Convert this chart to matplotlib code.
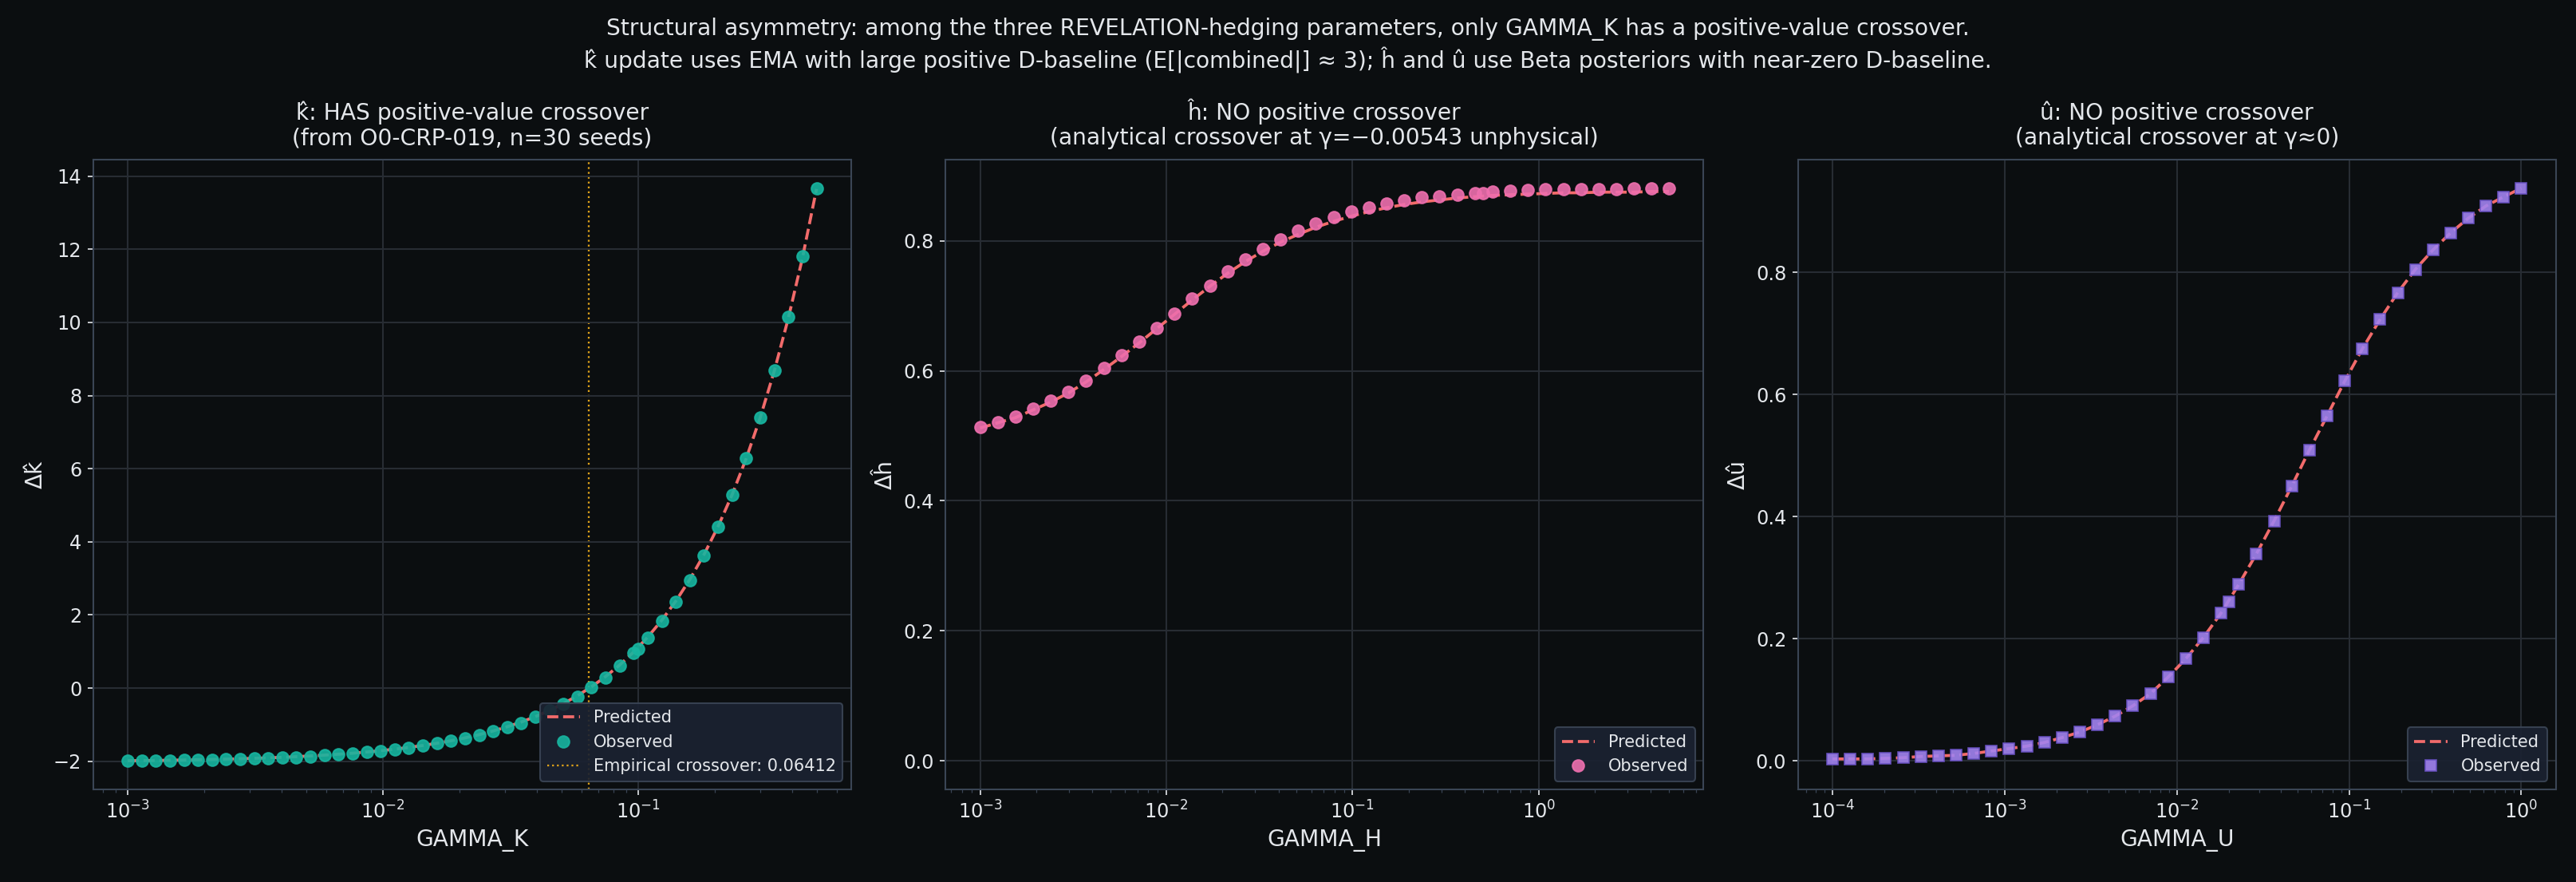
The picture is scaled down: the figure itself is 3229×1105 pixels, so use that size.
import numpy as np
import matplotlib
matplotlib.use("Agg")
import matplotlib.pyplot as plt

# colours (dark theme)
BG = "#0b0e10"
SPINE = "#3a4555"
GRID = "#272c33"
TXT = "#e4e7eb"
PRED = "#f26b6b"
C_K = "#17b5a0"
C_H = "#ee6fae"
C_U = "#a283f0"
CROSS = "#e0a31a"

# ---- panel 1: k-hat (GAMMA_K sweep, 50 log-spaced points + default 0.1)
gamma_k = [0.001, 0.001135, 0.001289, 0.001463, 0.001661, 0.001885, 0.00214, 0.00243,
           0.002758, 0.003131, 0.003554, 0.004035, 0.00458, 0.005199, 0.005902, 0.0067,
           0.007606, 0.008635, 0.009802, 0.011127, 0.012632, 0.01434, 0.016278, 0.018479,
           0.020978, 0.023814, 0.027034, 0.030689, 0.034838, 0.039548, 0.044895, 0.050965,
           0.057856, 0.065678, 0.074558, 0.084639, 0.096082, 0.10907, 0.12382, 0.14056,
           0.15957, 0.18114, 0.20563, 0.23344, 0.265, 0.30083, 0.3415, 0.38767, 0.44009, 0.5]
pred_k = [-1.989, -1.984, -1.98, -1.974, -1.968, -1.961, -1.953, -1.944, -1.934, -1.922,
          -1.909, -1.894, -1.877, -1.857, -1.835, -1.81, -1.782, -1.75, -1.713, -1.672,
          -1.625, -1.571, -1.51, -1.442, -1.363, -1.275, -1.174, -1.059, -0.93, -0.782,
          -0.615, -0.425, -0.209, 0.036, 0.314, 0.629, 0.987, 1.394, 1.856, 2.38,
          2.975, 3.65, 4.416, 5.287, 6.275, 7.396, 8.669, 10.114, 11.755, 13.65]
obs_gamma_k = gamma_k + [0.1]
obs_k = [-1.985, -1.985, -1.985, -1.985, -1.96, -1.96, -1.96, -1.95, -1.95, -1.93,
         -1.93, -1.9, -1.89, -1.87, -1.84, -1.81, -1.79, -1.75, -1.73, -1.68,
         -1.63, -1.57, -1.51, -1.43, -1.37, -1.29, -1.18, -1.07, -0.95, -0.79,
         -0.61, -0.44, -0.23, 0.02, 0.28, 0.61, 0.96, 1.37, 1.83, 2.36,
         2.94, 3.63, 4.42, 5.29, 6.28, 7.41, 8.69, 10.15, 11.81, 13.67, 1.08]
crossover_k = 0.06412

# ---- panel 2: h-hat (GAMMA_H sweep, 40 points + default 0.5)
gamma_h = [0.001, 0.001244, 0.001548, 0.001926, 0.002397, 0.002982, 0.00371, 0.004616,
           0.005744, 0.007146, 0.008891, 0.011063, 0.013764, 0.017126, 0.021308, 0.026512,
           0.032986, 0.041042, 0.051065, 0.063535, 0.079051, 0.098356, 0.12238, 0.15226,
           0.18945, 0.23571, 0.29328, 0.3649, 0.45401, 0.56488, 0.70283, 0.87447,
           1.088, 1.3537, 1.6843, 2.0957, 2.6074, 3.2442, 4.0365, 5.0]
pred_h = [0.512, 0.52, 0.528, 0.54, 0.552, 0.566, 0.583, 0.602, 0.622, 0.643,
          0.665, 0.687, 0.709, 0.73, 0.75, 0.768, 0.784, 0.798, 0.81, 0.821,
          0.83, 0.838, 0.845, 0.851, 0.856, 0.86, 0.863, 0.866, 0.868, 0.87,
          0.871, 0.872, 0.873, 0.874, 0.874, 0.875, 0.875, 0.875, 0.876, 0.876]
obs_gamma_h = gamma_h + [0.5]
obs_h = [0.513, 0.521, 0.529, 0.542, 0.554, 0.568, 0.585, 0.604, 0.624, 0.645,
         0.666, 0.688, 0.711, 0.731, 0.753, 0.771, 0.787, 0.802, 0.816, 0.827,
         0.837, 0.845, 0.851, 0.857, 0.862, 0.867, 0.869, 0.871, 0.874, 0.876,
         0.877, 0.878, 0.879, 0.879, 0.88, 0.88, 0.88, 0.881, 0.881, 0.881, 0.874]

# ---- panel 3: u-hat (GAMMA_U sweep, 40 points + default 0.02)
gamma_u = [0.0001, 0.00012664, 0.00016037, 0.00020309, 0.00025719, 0.0003257, 0.00041246,
           0.00052233, 0.00066147, 0.00083768, 0.0010608, 0.0013434, 0.0017013, 0.0021544,
           0.0027283, 0.0034551, 0.0043755, 0.005541, 0.007017, 0.0088862, 0.011253,
           0.014251, 0.018047, 0.022855, 0.028943, 0.036653, 0.046416, 0.05878, 0.074438,
           0.094267, 0.11938, 0.15118, 0.19145, 0.24245, 0.30703, 0.38881, 0.49239,
           0.62355, 0.78965, 1.0]
pred_u = [0.003, 0.003, 0.003, 0.004, 0.005, 0.007, 0.008, 0.009, 0.012, 0.016,
          0.02, 0.024, 0.03, 0.038, 0.047, 0.059, 0.073, 0.09, 0.11, 0.137,
          0.167, 0.202, 0.242, 0.289, 0.339, 0.393, 0.45, 0.509, 0.565, 0.622,
          0.675, 0.723, 0.767, 0.805, 0.837, 0.865, 0.889, 0.909, 0.924, 0.938]
obs_gamma_u = gamma_u + [0.02]
obs_u = pred_u + [0.261]

panels = [
    dict(gx=gamma_k, py=pred_k, ox=obs_gamma_k, oy=obs_k, color=C_K, marker="o",
         xlabel="GAMMA_K", ylabel="Δk̂",
         title="k̂: HAS positive-value crossover\n(from O0-CRP-019, n=30 seeds)"),
    dict(gx=gamma_h, py=pred_h, ox=obs_gamma_h, oy=obs_h, color=C_H, marker="o",
         xlabel="GAMMA_H", ylabel="Δĥ",
         title="ĥ: NO positive crossover\n(analytical crossover at γ=−0.00543 unphysical)"),
    dict(gx=gamma_u, py=pred_u, ox=obs_gamma_u, oy=obs_u, color=C_U, marker="s",
         xlabel="GAMMA_U", ylabel="Δû",
         title="û: NO positive crossover\n(analytical crossover at γ≈0)"),
]

plt.rcParams["font.family"] = ["DejaVu Sans"]
fig, axes = plt.subplots(1, 3, figsize=(21.53, 7.367), dpi=150)
fig.patch.set_facecolor(BG)
fig.subplots_adjust(left=0.0362, right=0.992, top=0.819, bottom=0.105, wspace=0.125)

for i, (ax, p) in enumerate(zip(axes, panels)):
    ax.set_facecolor(BG)
    ax.axhline(0, color="#aab2bd", lw=0.9, ls=":", alpha=0.8, zorder=1)
    ax.plot(p["gx"], p["py"], ls="--", color=PRED, lw=1.8, label="Predicted", zorder=2)
    if p["marker"] == "s":
        ax.plot(p["ox"], p["oy"], ls="none", marker="s", ms=6.8, color=p["color"],
                mec="#6a52c4", mew=0.8, alpha=0.9, label="Observed", zorder=3)
    else:
        ax.plot(p["ox"], p["oy"], ls="none", marker="o", ms=7, color=p["color"],
                mec=p["color"], alpha=0.9, label="Observed", zorder=3)
    if i == 0:
        ax.axvline(crossover_k, color=CROSS, ls=":", lw=1.1,
                   label=f"Empirical crossover: {crossover_k:.5f}", zorder=1)
    ax.set_xscale("log")
    ax.set_title(p["title"], color=TXT, fontsize=13.5, linespacing=1.15, pad=9)
    ax.set_xlabel(p["xlabel"], color=TXT, fontsize=13.5)
    ax.set_ylabel(p["ylabel"], color=TXT, fontsize=13.5)
    ax.tick_params(colors=TXT, labelsize=11.5, which="both")
    ax.tick_params(which="minor", color=SPINE)
    ax.grid(True, which="major", color=GRID, lw=1.0)
    for s in ax.spines.values():
        s.set_color(SPINE)
        s.set_linewidth(1.0)
    leg = ax.legend(loc="lower right", fontsize=10, facecolor="#1b2231",
                    edgecolor=SPINE, framealpha=0.92, labelcolor=TXT)

fig.suptitle("Structural asymmetry: among the three REVELATION-hedging parameters, only GAMMA_K "
             "has a positive-value crossover.\n"
             "k̂ update uses EMA with large positive D-baseline (E[|combined|] ≈ 3); ĥ and û use "
             "Beta posteriors with near-zero D-baseline.",
             color=TXT, fontsize=13.5, y=0.98, linespacing=1.3)

fig.savefig("out.png", dpi=150, facecolor=BG)
